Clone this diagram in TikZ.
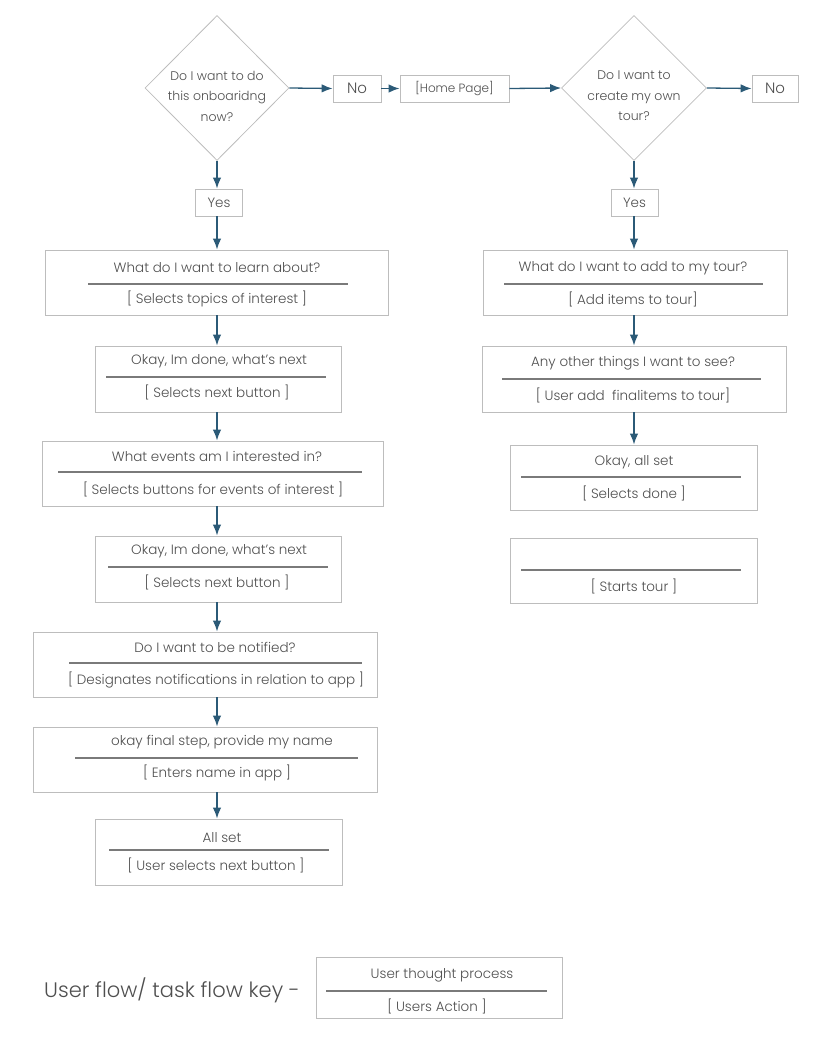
\documentclass[tikz,border=0pt]{standalone}
\usepackage{fontspec}
\setmainfont{Poppins Light}
\usetikzlibrary{shapes.geometric,arrows.meta}
\definecolor{txtgray}{HTML}{4F4F4F}
\definecolor{boxgray}{HTML}{BDBDBD}
\definecolor{sepgray}{HTML}{7A7A7A}
\definecolor{flowblue}{HTML}{2B5A77}
\tikzset{
  box/.style={draw=boxgray, line width=0.9pt, rectangle, inner sep=0pt},
  decision/.style={draw=boxgray, line width=0.8pt, diamond, inner sep=0pt},
  qtext/.style={text=txtgray, font=\fontsize{13.5}{16}\selectfont, inner sep=0pt},
  atext/.style={text=txtgray, font=\fontsize{13.5}{16}\selectfont, inner sep=0pt},
  dtext/.style={text=txtgray, font=\fontsize{12.5}{20.5}\selectfont, align=center, inner sep=0pt},
  sep/.style={draw=sepgray, line width=1.3pt},
  flow/.style={draw=flowblue, line width=1.3pt, -{Latex[length=11pt,width=8.5pt]}}
}
\begin{document}
\begin{tikzpicture}[x=1pt,y=-1pt]
    \useasboundingbox (0,0) rectangle (819,1043);
    \node[decision, minimum width=144pt, minimum height=145pt] (dec1) at (217,88) {};
    \node[dtext] (dec1t) at (217,96) {Do I want to do\\this onboaridng\\now?};
    \node[box, minimum width=48pt, minimum height=27pt] (no1) at (357,88.5) {};
    \node[text=txtgray, font=\fontsize{15}{18}\selectfont] (no1t) at (no1) {No};
    \node[box, minimum width=109pt, minimum height=27pt] (home) at (454.5,88.5) {};
    \node[text=txtgray, font=\fontsize{12}{14}\selectfont] (homet) at (home) {[Home Page]};
    \node[decision, minimum width=145pt, minimum height=145pt] (dec2) at (634,88) {};
    \node[dtext] (dec2t) at (634,96) {Do I want to\\create my own\\tour?};
    \node[box, minimum width=46pt, minimum height=27pt] (no2) at (775,88.5) {};
    \node[text=txtgray, font=\fontsize{15}{18}\selectfont] (no2t) at (no2) {No};
    \node[box, minimum width=47pt, minimum height=27pt] (yes1) at (219,202.5) {};
    \node[text=txtgray, font=\fontsize{13.5}{16}\selectfont] (yes1t) at (yes1) {Yes};
    \node[box, minimum width=47pt, minimum height=27pt] (yes2) at (634.5,202.5) {};
    \node[text=txtgray, font=\fontsize{13.5}{16}\selectfont] (yes2t) at (yes2) {Yes};

    \node[box, minimum width=343pt, minimum height=65pt] (learn) at (216.5,282.5) {};
    \node[qtext] (learnq) at (217,268) {What do I want to learn about?};
    \draw[sep] (88,284) -- (348,284);
    \node[atext] (learna) at (217,299) {[ Selects topics of interest ]};
    \node[box, minimum width=246pt, minimum height=66pt] (done1) at (218,379) {};
    \node[qtext] (done1q) at (219,361) {Okay, Im done, what’s next};
    \draw[sep] (106,377) -- (326,377);
    \node[atext] (done1a) at (217,392) {[ Selects next button ]};
    \node[box, minimum width=341pt, minimum height=65pt] (events) at (212.5,473.5) {};
    \node[qtext] (eventsq) at (217,456) {What events am I interested in?};
    \draw[sep] (58,472) -- (362,472);
    \node[atext] (eventsa) at (213,489) {[ Selects buttons for events of interest ]};
    \node[box, minimum width=246pt, minimum height=66pt] (done2) at (218,569) {};
    \node[qtext] (done2q) at (219,551) {Okay, Im done, what’s next};
    \draw[sep] (108,567) -- (328,567);
    \node[atext] (done2a) at (217,582) {[ Selects next button ]};
    \node[box, minimum width=344pt, minimum height=65pt] (notify) at (205,664.5) {};
    \node[qtext] (notifyq) at (215,647) {Do I want to be notified?};
    \draw[sep] (69,663) -- (362,663);
    \node[atext] (notifya) at (216,680) {[ Designates notifications in relation to app ]};
    \node[box, minimum width=344pt, minimum height=65pt] (name) at (205,759.5) {};
    \node[qtext] (nameq) at (222,742) {okay final step, provide my name};
    \draw[sep] (75,758) -- (358,758);
    \node[atext] (namea) at (217,773) {[ Enters name in app ]};
    \node[box, minimum width=247pt, minimum height=66pt] (allset) at (218.5,852) {};
    \node[qtext] (allsetq) at (222,838) {All set};
    \draw[sep] (109,850) -- (329,850);
    \node[atext] (allseta) at (216,865) {[ User selects next button ]};

    \node[box, minimum width=304pt, minimum height=65pt] (addtour) at (635,282.5) {};
    \node[qtext] (addtourq) at (633,268) {What do I want to add to my tour?};
    \draw[sep] (504,284) -- (763,284);
    \node[atext] (addtoura) at (633,299) {[ Add items to tour]};
    \node[box, minimum width=304pt, minimum height=66pt] (other) at (634,379) {};
    \node[qtext] (otherq) at (633,363) {Any other things I want to see?};
    \draw[sep] (502,379) -- (761,379);
    \node[atext] (othera) at (633,395) {[ User add\ \ finalitems to tour]};
    \node[box, minimum width=247pt, minimum height=65pt] (allset2) at (633.5,477.5) {};
    \node[qtext] (allset2q) at (634,462) {Okay, all set};
    \draw[sep] (521,477) -- (741,477);
    \node[atext] (allset2a) at (634,493) {[ Selects done ]};
    \node[box, minimum width=247pt, minimum height=65pt] (start) at (633.5,570.5) {};
    \draw[sep] (521,570) -- (741,570);
    \node[atext] (starta) at (634,586) {[ Starts tour ]};

    \node[text=txtgray, font=\fontsize{21}{25}\selectfont, anchor=west, inner sep=0pt] (keyt) at (44,990) {User flow/ task flow key -};
    \node[box, minimum width=246pt, minimum height=61pt] (key) at (439,987.5) {};
    \node[qtext] (keyq) at (442,975) {User thought process};
    \draw[sep] (326,991) -- (547,991);
    \node[atext] (keya) at (437,1006) {[ Users Action ]};

    \draw[flow] (dec1.east) -- (no1.west);
    \draw[flow] (no1.east) -- (home.west);
    \draw[flow] (home.east) -- (dec2.west);
    \draw[flow] (dec2.east) -- (no2.west);
    \draw[flow] (dec1.south) -- (dec1.south |- yes1.north);
    \draw[flow] (yes1.south -| dec1.south) -- (learn.north -| dec1.south);
    \draw[flow] (learn.south -| dec1.south) -- (done1.north -| dec1.south);
    \draw[flow] (done1.south -| dec1.south) -- (events.north -| dec1.south);
    \draw[flow] (events.south -| dec1.south) -- (done2.north -| dec1.south);
    \draw[flow] (done2.south -| dec1.south) -- (notify.north -| dec1.south);
    \draw[flow] (notify.south -| dec1.south) -- (name.north -| dec1.south);
    \draw[flow] (name.south -| dec1.south) -- (allset.north -| dec1.south);
    \draw[flow] (dec2.south) -- (dec2.south |- yes2.north);
    \draw[flow] (yes2.south -| dec2.south) -- (addtour.north -| dec2.south);
    \draw[flow] (addtour.south -| dec2.south) -- (other.north -| dec2.south);
    \draw[flow] (other.south -| dec2.south) -- (allset2.north -| dec2.south);
\end{tikzpicture}
\end{document}
